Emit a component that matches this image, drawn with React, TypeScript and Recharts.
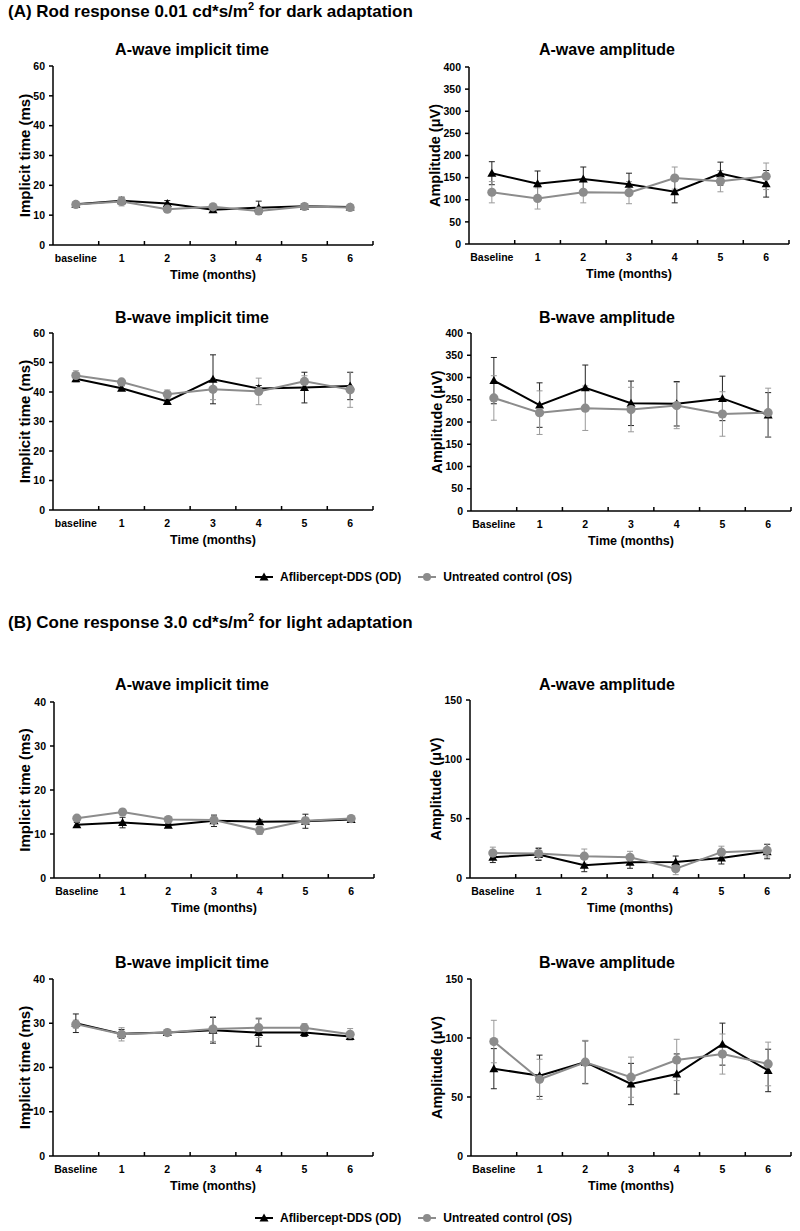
import React from "react";
import { LineChart, Line, XAxis, YAxis, ErrorBar, Label } from "recharts";

const monthsLower = ["baseline", "1", "2", "3", "4", "5", "6"];
const months = ["Baseline", "1", "2", "3", "4", "5", "6"];

// (A) rod response, dark adaptation
const rodAImplicitOD = [13.7, 14.8, 13.9, 11.8, 12.5, 13.0, 12.7];
const rodAImplicitODErr = [0.8, 1.2, 1.0, 0.8, 2.2, 0.8, 0.8];
const rodAImplicitOS = [13.6, 14.6, 12.0, 12.8, 11.4, 12.9, 12.6];
const rodAImplicitOSErr = [0.8, 1.5, 1.0, 0.8, 1.0, 0.8, 1.0];

const rodAAmpOD = [160, 136, 147, 135, 118, 159, 136];
const rodAAmpODErr = [26, 29, 27, 25, 25, 26, 30];
const rodAAmpOS = [117, 103, 117, 116, 149, 142, 153];
const rodAAmpOSErr = [24, 24, 24, 25, 25, 24, 30];

const rodBImplicitOD = [44.5, 41.3, 36.8, 44.3, 41.2, 41.5, 42.0];
const rodBImplicitODErr = [1.0, 0.8, 0.8, 8.3, 1.0, 5.2, 4.6];
const rodBImplicitOS = [45.6, 43.4, 39.2, 40.9, 40.2, 43.6, 40.8];
const rodBImplicitOSErr = [1.6, 0.8, 1.5, 3.5, 4.5, 1.9, 6.0];

const rodBAmpOD = [293, 238, 277, 242, 241, 253, 216];
const rodBAmpODErr = [52, 50, 51, 50, 50, 50, 50];
const rodBAmpOS = [254, 221, 231, 228, 237, 218, 221];
const rodBAmpOSErr = [50, 49, 50, 50, 52, 50, 55];

// (B) cone response, light adaptation
const coneAImplicitOD = [12.1, 12.6, 12.0, 13.0, 12.8, 12.9, 13.3];
const coneAImplicitODErr = [0.5, 1.2, 0.4, 1.3, 0.4, 1.6, 0.4];
const coneAImplicitOS = [13.6, 15.0, 13.3, 13.2, 10.8, 13.0, 13.5];
const coneAImplicitOSErr = [0.5, 0.6, 0.4, 0.6, 0.9, 0.8, 0.4];

const coneAAmpOD = [17.5, 19.8, 10.8, 13.2, 13.5, 16.8, 22.2];
const coneAAmpODErr = [4.5, 5, 5.5, 5, 5, 5, 6];
const coneAAmpOS = [21, 20.6, 18.4, 17.5, 7.8, 21.8, 23.2];
const coneAAmpOSErr = [5, 5, 6, 5, 5, 5, 5.5];

const coneBImplicitOD = [30.0, 27.6, 27.9, 28.4, 27.9, 27.9, 27.0];
const coneBImplicitODErr = [2.1, 1.0, 0.5, 2.9, 3.1, 0.9, 0.6];
const coneBImplicitOS = [29.8, 27.5, 27.9, 28.7, 29.0, 29.0, 27.5];
const coneBImplicitOSErr = [0.9, 1.5, 0.4, 2.8, 2.2, 0.9, 1.3];

const coneBAmpOD = [74, 68, 79.5, 61, 69.5, 94.8, 72.5];
const coneBAmpODErr = [17, 17.5, 18, 17.5, 17, 17.8, 18];
const coneBAmpOS = [97, 65, 79.5, 66.8, 81.4, 86.4, 78];
const coneBAmpOSErr = [18, 17, 18.5, 17, 17.5, 17, 18.5];

const implicit60Ticks = [0, 10, 20, 30, 40, 50, 60];
const amp400Ticks = [0, 50, 100, 150, 200, 250, 300, 350, 400];
const implicit40Ticks = [0, 10, 20, 30, 40];
const amp150Ticks = [0, 50, 100, 150];

const FONT = "'Liberation Sans', Arial, sans-serif";
const GREY = "#8c8c8c";
const PLOT_W = 320;
const BAND = PLOT_W / 7;

const TriangleDot = (props: any) => {
  const { cx, cy, index } = props;
  if (cx == null || cy == null) return null;
  return (
    <path
      key={`t-${index}`}
      d={`M${cx},${cy - 4.5} L${cx + 4.5},${cy + 3.5} L${cx - 4.5},${cy + 3.5} Z`}
      fill="#000"
    />
  );
};

const CircleDot = (props: any) => {
  const { cx, cy, index } = props;
  if (cx == null || cy == null) return null;
  return <circle key={`c-${index}`} cx={cx} cy={cy} r={4.6} fill={GREY} />;
};

const CatTick = (props: any) => {
  const { x, y, payload } = props;
  return (
    <g>
      <line x1={x + BAND / 2} y1={y} x2={x + BAND / 2} y2={y - 4} stroke="#000" strokeWidth={1.5} />
      <text
        x={x}
        y={y + 13}
        dy="0.35em"
        textAnchor="middle"
        fontFamily={FONT}
        fontWeight="bold"
        fontSize={10.5}
        fill="#000"
      >
        {payload.value}
      </text>
    </g>
  );
};

function Panel(props: any) {
  const { title, titleX, titleY, cats, od, odErr, os, osErr, yMax, ticks, yLabel, labelSize, labelOffset, boxLeft, plotLeft, plotTop, plotH } = props;
  const data = cats.map((c: string, i: number) => ({
    cat: c,
    od: od[i],
    odErr: odErr[i],
    os: os[i],
    osErr: osErr[i],
  }));
  const yAxisW = plotLeft - boxLeft;
  return (
    <>
      <div
        style={{
          position: "absolute",
          left: titleX - 150,
          top: titleY - 10,
          width: 300,
          textAlign: "center",
          fontFamily: FONT,
          fontWeight: "bold",
          fontSize: 16,
          lineHeight: "20px",
          color: "#000",
        }}
      >
        {title}
      </div>
      <div style={{ position: "absolute", left: boxLeft, top: plotTop - 10 }}>
        <LineChart
          width={yAxisW + PLOT_W + 10}
          height={plotH + 10 + 34 + 8}
          data={data}
          margin={{ top: 10, right: 10, bottom: 8, left: 0 }}
        >
          <XAxis
            dataKey="cat"
            scale="point"
            padding={{ left: BAND / 2, right: BAND / 2 }}
            axisLine={{ stroke: "#000", strokeWidth: 1.5 }}
            tickLine={false}
            tickSize={0}
            tickMargin={0}
            tick={<CatTick />}
            interval={0}
            height={34}
          >
            <Label
              value="Time (months)"
              position="insideBottom"
              offset={0}
              style={{ fontFamily: FONT, fontWeight: "bold", fontSize: 12.5, fill: "#000" }}
            />
          </XAxis>
          <YAxis
            type="number"
            domain={[0, yMax]}
            ticks={ticks}
            interval={0}
            width={yAxisW}
            axisLine={{ stroke: "#000", strokeWidth: 1.5 }}
            tickLine={{ stroke: "#000", strokeWidth: 1.5 }}
            tickSize={4}
            tickMargin={4}
            tick={{ fontFamily: FONT, fontWeight: "bold", fontSize: 10.5, fill: "#000" }}
          >
            <Label
              value={yLabel}
              angle={-90}
              position="insideLeft"
              offset={labelOffset}
              style={{ textAnchor: "middle", fontFamily: FONT, fontWeight: "bold", fontSize: labelSize, fill: "#000" }}
            />
          </YAxis>
          <Line
            dataKey="od"
            stroke="#000"
            strokeWidth={2}
            dot={TriangleDot}
            activeDot={false}
            isAnimationActive={false}
          >
            <ErrorBar dataKey="odErr" width={3} stroke="#222" strokeWidth={1} direction="y" />
          </Line>
          <Line
            dataKey="os"
            stroke={GREY}
            strokeWidth={2}
            dot={CircleDot}
            activeDot={false}
            isAnimationActive={false}
          >
            <ErrorBar dataKey="osErr" width={3} stroke="#9a9a9a" strokeWidth={1} direction="y" />
          </Line>
        </LineChart>
      </div>
    </>
  );
}

function LegendRow({ top }: { top: number }) {
  const textStyle: React.CSSProperties = {
    fontFamily: FONT,
    fontWeight: "bold",
    fontSize: 12,
    color: "#000",
    whiteSpace: "nowrap",
  };
  return (
    <div
      style={{
        position: "absolute",
        left: 254,
        top: top - 8,
        height: 16,
        display: "flex",
        alignItems: "center",
      }}
    >
      <svg width={20} height={12}>
        <line x1={1} y1={6} x2={19} y2={6} stroke="#000" strokeWidth={2} />
        <path d="M10,1.5 L14.5,9.5 L5.5,9.5 Z" fill="#000" />
      </svg>
      <span style={{ ...textStyle, marginLeft: 6 }}>Aflibercept-DDS (OD)</span>
      <svg width={20} height={12} style={{ marginLeft: 16 }}>
        <line x1={1} y1={6} x2={19} y2={6} stroke={GREY} strokeWidth={2} />
        <circle cx={10} cy={6} r={4} fill={GREY} />
      </svg>
      <span style={{ ...textStyle, marginLeft: 6 }}>Untreated control (OS)</span>
    </div>
  );
}

const sectionTitle: React.CSSProperties = {
  position: "absolute",
  left: 8,
  fontFamily: FONT,
  fontWeight: "bold",
  fontSize: 17,
  lineHeight: "22px",
  color: "#000",
  whiteSpace: "nowrap",
};

export default function App() {
  return (
    <div
      style={{
        position: "absolute",
        left: 0,
        top: 0,
        width: 800,
        height: 1231,
        background: "#fff",
        overflow: "hidden",
      }}
    >
      <div style={{ ...sectionTitle, top: 1 }}>
        (A) Rod response 0.01 cd*s/m<sup style={{ fontSize: 11, lineHeight: 0 }}>2</sup> for dark adaptation
      </div>

      <Panel
        title="A-wave implicit time" titleX={192} titleY={50}
        cats={monthsLower} od={rodAImplicitOD} odErr={rodAImplicitODErr} os={rodAImplicitOS} osErr={rodAImplicitOSErr}
        yMax={60} ticks={implicit60Ticks} yLabel="Implicit time (ms)" labelSize={15} labelOffset={25}
        boxLeft={0} plotLeft={53} plotTop={66} plotH={179}
      />
      <Panel
        title="A-wave amplitude" titleX={607} titleY={50}
        cats={months} od={rodAAmpOD} odErr={rodAAmpODErr} os={rodAAmpOS} osErr={rodAAmpOSErr}
        yMax={400} ticks={amp400Ticks} yLabel="Amplitude (μV)" labelSize={14.5} labelOffset={35}
        boxLeft={400} plotLeft={469} plotTop={67} plotH={177}
      />
      <Panel
        title="B-wave implicit time" titleX={192} titleY={318}
        cats={monthsLower} od={rodBImplicitOD} odErr={rodBImplicitODErr} os={rodBImplicitOS} osErr={rodBImplicitOSErr}
        yMax={60} ticks={implicit60Ticks} yLabel="Implicit time (ms)" labelSize={15} labelOffset={25}
        boxLeft={0} plotLeft={53} plotTop={333} plotH={177}
      />
      <Panel
        title="B-wave amplitude" titleX={607} titleY={318}
        cats={months} od={rodBAmpOD} odErr={rodBAmpODErr} os={rodBAmpOS} osErr={rodBAmpOSErr}
        yMax={400} ticks={amp400Ticks} yLabel="Amplitude (μV)" labelSize={14.5} labelOffset={37}
        boxLeft={400} plotLeft={471} plotTop={333} plotH={178}
      />

      <LegendRow top={577} />

      <div style={{ ...sectionTitle, top: 612 }}>
        (B) Cone response 3.0 cd*s/m<sup style={{ fontSize: 11, lineHeight: 0 }}>2</sup> for light adaptation
      </div>

      <Panel
        title="A-wave implicit time" titleX={192} titleY={685}
        cats={months} od={coneAImplicitOD} odErr={coneAImplicitODErr} os={coneAImplicitOS} osErr={coneAImplicitOSErr}
        yMax={40} ticks={implicit40Ticks} yLabel="Implicit time (ms)" labelSize={15} labelOffset={25}
        boxLeft={0} plotLeft={54} plotTop={702} plotH={176}
      />
      <Panel
        title="A-wave amplitude" titleX={607} titleY={685}
        cats={months} od={coneAAmpOD} odErr={coneAAmpODErr} os={coneAAmpOS} osErr={coneAAmpOSErr}
        yMax={150} ticks={amp150Ticks} yLabel="Amplitude (μV)" labelSize={14.5} labelOffset={36}
        boxLeft={400} plotLeft={470} plotTop={700} plotH={178}
      />
      <Panel
        title="B-wave implicit time" titleX={192} titleY={963}
        cats={months} od={coneBImplicitOD} odErr={coneBImplicitODErr} os={coneBImplicitOS} osErr={coneBImplicitOSErr}
        yMax={40} ticks={implicit40Ticks} yLabel="Implicit time (ms)" labelSize={15} labelOffset={25}
        boxLeft={0} plotLeft={53} plotTop={979} plotH={177}
      />
      <Panel
        title="B-wave amplitude" titleX={607} titleY={963}
        cats={months} od={coneBAmpOD} odErr={coneBAmpODErr} os={coneBAmpOS} osErr={coneBAmpOSErr}
        yMax={150} ticks={amp150Ticks} yLabel="Amplitude (μV)" labelSize={14.5} labelOffset={37}
        boxLeft={400} plotLeft={471} plotTop={979} plotH={177}
      />

      <LegendRow top={1218} />
    </div>
  );
}
